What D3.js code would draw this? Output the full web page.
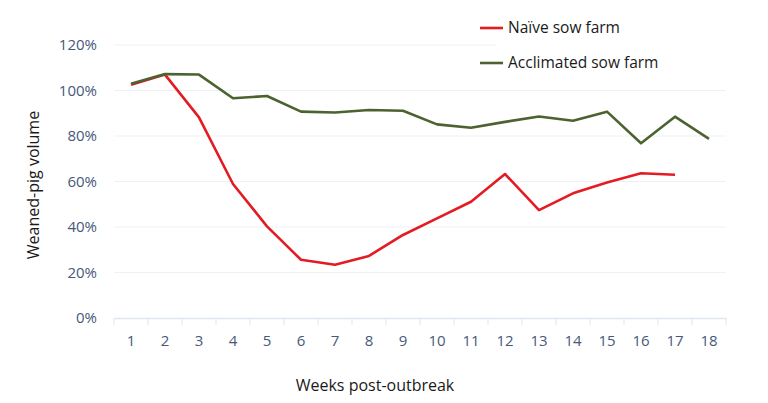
<!DOCTYPE html>
<html><head><meta charset="utf-8">
<script src="https://cdn.jsdelivr.net/npm/d3@7"></script>
<style>body{margin:0;background:#fff}svg{display:block}</style>
</head><body>
<svg id="c" width="768" height="403"></svg>
<script>
const weeks = ["1","2","3","4","5","6","7","8","9","10","11","12","13","14","15","16","17","18"];
const naive = [102.5,107,88.2,58.9,40.3,25.6,23.4,27.3,36.5,43.8,51.1,63.3,47.4,54.8,59.6,63.6,63.0,null];
const acclimated = [103,107.2,107,96.6,97.6,90.7,90.3,91.4,91.1,85.1,83.6,86.2,88.6,86.7,90.7,76.8,88.5,78.7];
const yTicks = [0,20,40,60,80,100,120];
const seriesNames = ["Naïve sow farm","Acclimated sow farm"];
const seriesColors = ["#e41b22","#4d6231"];

const svg = d3.select("#c");
const font = "'Open Sans', sans-serif";
const x = d3.scaleBand().domain(weeks).range([114,726]);
const y = d3.scaleLinear().domain([0,120]).range([318,45]);

// gridlines
svg.append("g").selectAll("line").data(yTicks.filter(d=>d>0)).join("line")
  .attr("x1",114).attr("x2",726).attr("y1",d=>y(d)).attr("y2",d=>y(d))
  .attr("stroke","#edf1f6").attr("stroke-width",1.2);

// x axis
const xa = svg.append("g").attr("transform","translate(0,318)")
  .call(d3.axisBottom(x).tickSize(0).tickPadding(17.5));
xa.select(".domain").attr("stroke","#dde5ef").attr("stroke-width",1.5);
xa.selectAll("text").attr("font-family",font).attr("font-size",15).attr("fill","#46597a");
svg.append("g").selectAll("line").data(d3.range(weeks.length+1)).join("line")
  .attr("x1",i=>114+i*x.step()).attr("x2",i=>114+i*x.step())
  .attr("y1",318).attr("y2",325).attr("stroke","#e3e9f1").attr("stroke-width",1.2);

// y axis labels
const ya = svg.append("g").attr("transform","translate(97,0)")
  .call(d3.axisLeft(y).tickValues(yTicks).tickSize(0).tickPadding(0).tickFormat(d=>d+"%"));
ya.select(".domain").remove();
ya.selectAll("text").attr("font-family",font).attr("font-size",15).attr("fill","#46597a");

// legend background
svg.append("rect").attr("x",496).attr("y",8).attr("width",272).attr("height",76).attr("fill","#fff");

// lines
const line = d3.line().defined(d=>d!=null)
  .x((d,i)=>x(weeks[i])+x.bandwidth()/2).y(d=>y(d));
[naive,acclimated].forEach((s,k)=>{
  svg.append("path").datum(s).attr("d",line).attr("fill","none")
    .attr("stroke",seriesColors[k]).attr("stroke-width",2.6).attr("stroke-linejoin","round");
});

// legend
const lg = svg.append("g");
seriesNames.forEach((n,k)=>{
  const yy = k===0?28:63;
  lg.append("line").attr("x1",480).attr("x2",503).attr("y1",yy).attr("y2",yy)
    .attr("stroke",seriesColors[k]).attr("stroke-width",2.6);
  lg.append("text").attr("x",508).attr("y",yy+5).text(n)
    .attr("font-family",font).attr("font-size",15.5).attr("fill","#1a1a1a");
});

// axis titles
svg.append("text").attr("x",375).attr("y",391).attr("text-anchor","middle")
  .attr("font-family",font).attr("font-size",16).attr("fill","#1a1a1a").text("Weeks post-outbreak");
svg.append("text").attr("transform","translate(39,185) rotate(-90)").attr("text-anchor","middle")
  .attr("font-family",font).attr("font-size",16).attr("fill","#1a1a1a").text("Weaned-pig volume");
</script>
</body></html>
